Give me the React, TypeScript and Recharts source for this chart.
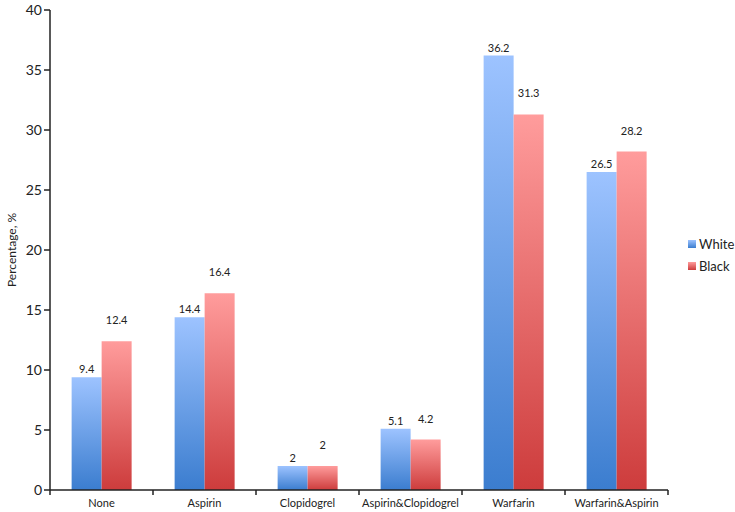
import { BarChart, Bar, XAxis, YAxis, LabelList } from "recharts"

const categories = ["None", "Aspirin", "Clopidogrel", "Aspirin&Clopidogrel", "Warfarin", "Warfarin&Aspirin"]
const white = [9.4, 14.4, 2, 5.1, 36.2, 26.5]
const black = [12.4, 16.4, 2, 4.2, 31.3, 28.2]
const yTicks = [0, 5, 10, 15, 20, 25, 30, 35, 40]

const data = categories.map((name, i) => ({ name, White: white[i], Black: black[i] }))

const FONT = "Lato, 'Open Sans', sans-serif"
const BAND = 103

function CategoryTick(props: any) {
  const { x, y, payload, index } = props
  const last = index === categories.length - 1
  return (
    <g>
      <line x1={x - BAND / 2} y1={y - 8} x2={x - BAND / 2} y2={y - 3} stroke="#222" strokeWidth={1.5} />
      {last && <line x1={x + BAND / 2} y1={y - 8} x2={x + BAND / 2} y2={y - 3} stroke="#222" strokeWidth={1.5} />}
      <text x={x} y={y + 9} textAnchor="middle" fontSize={11} fill="#222" fontFamily={FONT}>
        {payload.value}
      </text>
    </g>
  )
}

const legendItems = [
  { label: "White", top: "#9dc3ff", bottom: "#3b7dcf" },
  { label: "Black", top: "#ff9c9c", bottom: "#cd3c3c" },
]

function LegendBox() {
  return (
    <div style={{ position: "absolute", left: 688, top: 233, fontFamily: FONT, fontSize: 13, color: "#222" }}>
      {legendItems.map((it) => (
        <div key={it.label} style={{ display: "flex", alignItems: "center", height: 22 }}>
          <div
            style={{
              width: 8,
              height: 8,
              marginRight: 3,
              background: `linear-gradient(${it.top}, ${it.bottom})`,
            }}
          />
          <span>{it.label}</span>
        </div>
      ))}
    </div>
  )
}

export default function App() {
  return (
    <div style={{ position: "absolute", left: 0, top: 0, width: 735, height: 512, background: "#fff" }}>
      <BarChart
        width={735}
        height={512}
        data={data}
        margin={{ top: 10, right: 67, left: 0, bottom: 0 }}
        barCategoryGap="21%"
        barGap={0}
      >
        <defs>
          <linearGradient id="gWhite" x1="0" y1="0" x2="0" y2="1">
            <stop offset="0%" stopColor="#9dc3ff" />
            <stop offset="100%" stopColor="#3b7dcf" />
          </linearGradient>
          <linearGradient id="gBlack" x1="0" y1="0" x2="0" y2="1">
            <stop offset="0%" stopColor="#ff9c9c" />
            <stop offset="100%" stopColor="#cd3c3c" />
          </linearGradient>
        </defs>
        <XAxis
          dataKey="name"
          height={22}
          tickLine={false}
          axisLine={{ stroke: "#222", strokeWidth: 1.5 }}
          tick={<CategoryTick />}
          interval={0}
        />
        <YAxis
          width={50}
          domain={[0, 40]}
          ticks={yTicks}
          interval={0}
          tickSize={6}
          tickLine={{ stroke: "#222", strokeWidth: 1.5 }}
          axisLine={{ stroke: "#222", strokeWidth: 1.5 }}
          tick={{ fontSize: 14, fill: "#222", fontFamily: FONT }}
          label={{
            value: "Percentage, %",
            angle: -90,
            position: "insideLeft",
            dx: 7,
            style: { fontSize: 12, fill: "#222", fontFamily: FONT, textAnchor: "middle" },
          }}
        />
        <Bar dataKey="White" fill="url(#gWhite)" isAnimationActive={false}>
          <LabelList dataKey="White" position="top" offset={4} style={{ fontSize: 11, fill: "#222", fontFamily: FONT }} />
        </Bar>
        <Bar dataKey="Black" fill="url(#gBlack)" isAnimationActive={false}>
          <LabelList dataKey="Black" position="top" offset={17} style={{ fontSize: 11, fill: "#222", fontFamily: FONT }} />
        </Bar>
      </BarChart>
      <LegendBox />
    </div>
  )
}
